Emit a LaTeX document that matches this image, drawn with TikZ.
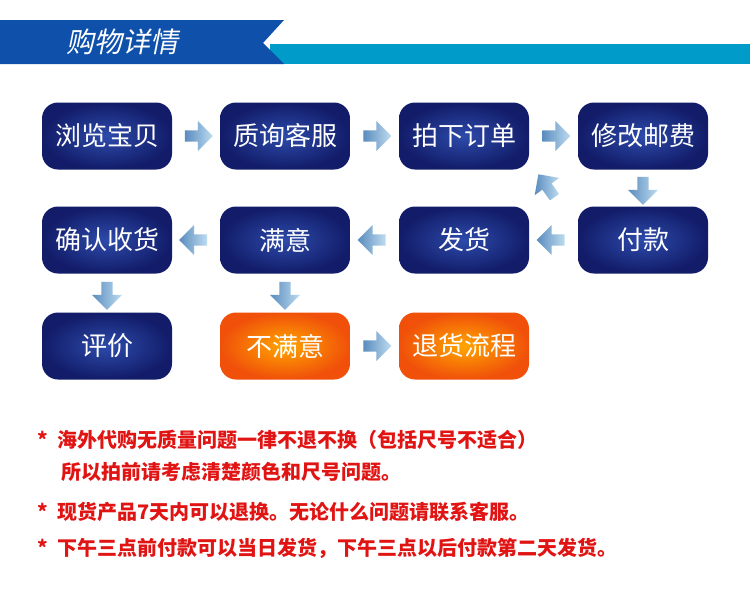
\documentclass[tikz,border=0pt]{standalone}
\usepackage{fontspec}
\setmainfont{Noto Sans CJK SC}
\newfontfamily\slantfont[FakeSlant=0.2]{Noto Sans CJK SC}
\usetikzlibrary{shapes.arrows,calc}
\definecolor{hdrblue}{RGB}{14,80,170}
\definecolor{hdrteal}{RGB}{0,155,200}
\definecolor{boxin}{RGB}{45,75,170}
\definecolor{boxout}{RGB}{18,28,105}
\definecolor{redtxt}{RGB}{225,20,20}
\tikzset{
  stepbox/.style={rounded corners=16pt, minimum width=130pt, minimum height=67pt,
    inner color=boxin, outer color=boxout, text=white, font=\fontsize{26}{26}\selectfont},
  badbox/.style={stepbox, inner color=orange!70!yellow, outer color={rgb,255:red,240;green,80;blue,10}},
  blockarrow/.style={single arrow, minimum width=30pt, minimum height=28pt,
    single arrow head extend=6pt, left color={rgb,255:red,90;green,140;blue,190}, right color={rgb,255:red,190;green,220;blue,240}, draw=none},
  note/.style={anchor=west, text=redtxt, font=\fontsize{20}{20}\selectfont\bfseries}
}
\begin{document}
\begin{tikzpicture}[x=1pt,y=-1pt]
    \useasboundingbox (0,0) rectangle (750,600);
    \fill[white] (0,0) rectangle (750,600);
    % header band
    \fill[hdrteal] (270,44) rectangle (750,64);
    \fill[hdrblue] (0,20) -- (284,20) -- (263,43) -- (284,64) -- (0,64) -- cycle;
    \node[text=white, font=\fontsize{28}{28}\selectfont\slantfont] (title) at (122,42) {购物详情};

    % process boxes
    \node[stepbox] (browse) at (107,136) {浏览宝贝};
    \node[stepbox] (ask) at (285,136) {质询客服};
    \node[stepbox] (order) at (464,136) {拍下订单};
    \node[stepbox] (postage) at (643,136) {修改邮费};
    \node[stepbox] (confirm) at (107,240) {确认收货};
    \node[stepbox] (happy) at (285,240) {满意};
    \node[stepbox] (ship) at (464,240) {发货};
    \node[stepbox] (pay) at (643,240) {付款};
    \node[stepbox] (review) at (107,346) {评价};
    \node[badbox] (unhappy) at (285,346) {不满意};
    \node[badbox] (refund) at (464,346) {退货流程};

    % block arrows
    \node[blockarrow] (a1) at ($(browse.east)!0.5!(ask.west)$) {};
    \node[blockarrow] (a2) at ($(ask.east)!0.5!(order.west)$) {};
    \node[blockarrow] (a3) at ($(order.east)!0.5!(postage.west)$) {};
    \node[blockarrow, rotate=-90] (a4) at ($(postage.south)!0.5!(pay.north)$) {};
    \node[blockarrow, rotate=180] (a5) at ($(pay.west)!0.5!(ship.east)$) {};
    \node[blockarrow, rotate=180] (a6) at ($(ship.west)!0.5!(happy.east)$) {};
    \node[blockarrow, rotate=180] (a7) at ($(happy.west)!0.5!(confirm.east)$) {};
    \node[blockarrow, rotate=-90] (a8) at ($(confirm.south)!0.5!(review.north)$) {};
    \node[blockarrow, rotate=-90] (a9) at ($(happy.south)!0.5!(unhappy.north)$) {};
    \node[blockarrow] (a10) at ($(unhappy.east)!0.5!(refund.west)$) {};
    \node[blockarrow, rotate=125] (a11) at (548,188) {};

    % notes
    \node[note] (n1) at (34,440) {*\ \ 海外代购无质量问题一律不退不换（包括尺号不适合）};
    \node[note] (n2) at (58,472) {所以拍前请考虑清楚颜色和尺号问题。};
    \node[note] (n3) at (34,512) {*\ \ 现货产品7天内可以退换。无论什么问题请联系客服。};
    \node[note] (n4) at (34,548) {*\ \ 下午三点前付款可以当日发货，下午三点以后付款第二天发货。};
\end{tikzpicture}
\end{document}
